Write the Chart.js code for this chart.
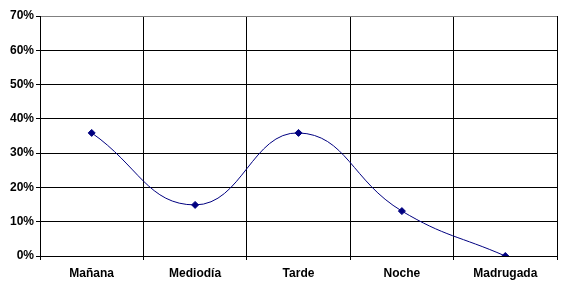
<!DOCTYPE html>
<html>
<head>
<meta charset="utf-8">
<script src="https://cdn.jsdelivr.net/npm/chart.js@4"></script>
<style>
  body { margin: 0; background: #fff; }
</style>
</head>
<body>
<canvas id="chart" width="562" height="288"></canvas>
<script>
// periodos del día y su porcentaje
var categorias = ['Mañana', 'Mediodía', 'Tarde', 'Noche', 'Madrugada'];
var porcentajes = [35.9, 14.9, 35.9, 13.1, 0];
var ticksY = [0, 10, 20, 30, 40, 50, 60, 70];

Chart.defaults.font.family = '"Liberation Sans", Arial, sans-serif';
Chart.defaults.font.size = 12;
Chart.defaults.font.weight = 'bold';
Chart.defaults.color = '#000';

const ctx = document.getElementById('chart').getContext('2d');
new Chart(ctx, {
    type: 'line',
    data: {
        labels: categorias,
        datasets: [{
            data: porcentajes,
            borderColor: '#000080',
            backgroundColor: '#000080',
            borderWidth: 1,
            tension: 0.45,
            pointStyle: 'rectRot',
            pointRadius: 3.5,
            pointBorderWidth: 1,
            fill: false
        }]
    },
    options: {
        responsive: false,
        animation: false,
        layout: { padding: { top: 16, right: 4, left: 0, bottom: 0 } },
        plugins: { legend: { display: false }, tooltip: { enabled: false } },
        scales: {
            x: {
                offset: true,
                grid: {
                    offset: true,
                    color: c => c.index === categorias.length ? '#808080' : '#000',
                    tickColor: '#000',
                    tickLength: 4,
                    lineWidth: 1
                },
                border: { color: '#000' },
                ticks: { padding: 6, maxRotation: 0 },
                afterFit: s => { s.height = 32; }
            },
            y: {
                min: 0,
                max: 70,
                afterBuildTicks: s => { s.ticks = ticksY.map(v => ({ value: v })); },
                grid: {
                    color: c => c.tick && c.tick.value === 70 ? '#808080' : '#000',
                    tickColor: '#000',
                    tickLength: 4,
                    lineWidth: 1
                },
                border: { color: '#000' },
                ticks: { padding: 2, callback: v => v + '%' },
                afterFit: s => { s.width = 40; }
            }
        }
    }
});
</script>
</body>
</html>
